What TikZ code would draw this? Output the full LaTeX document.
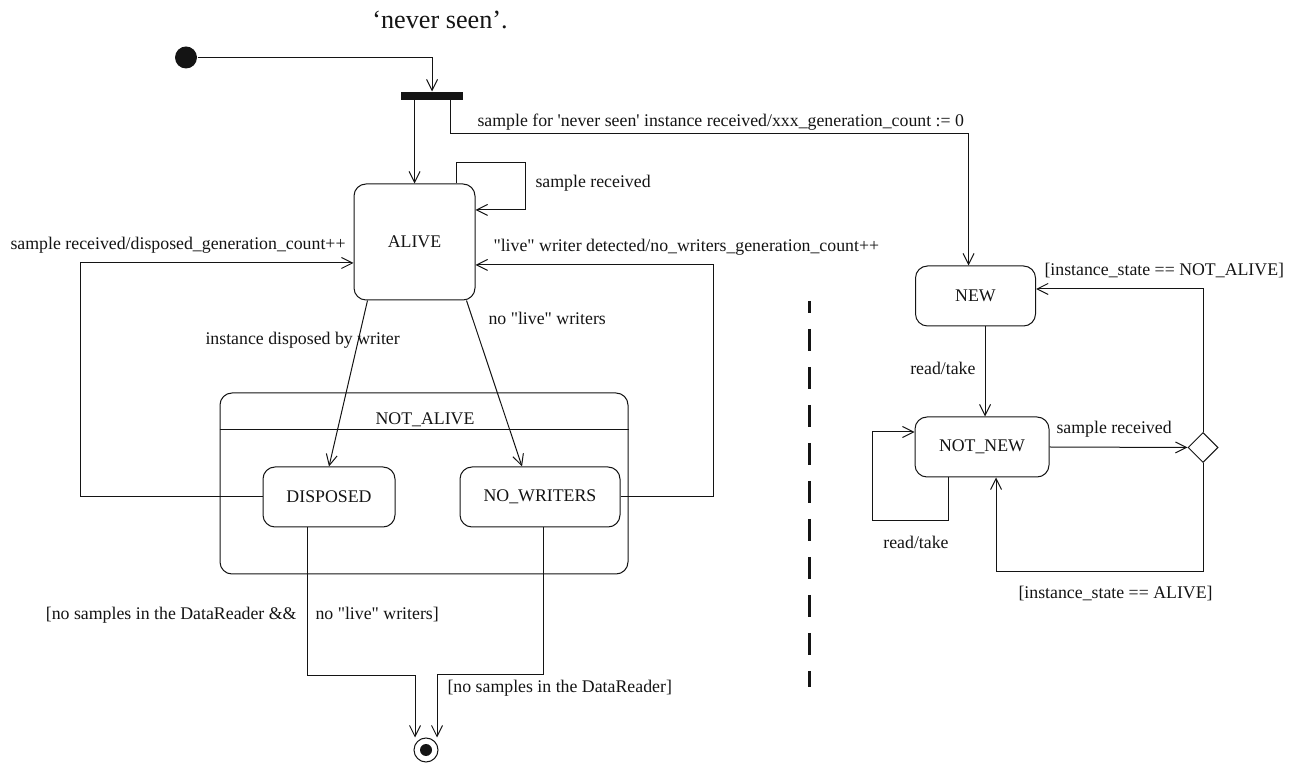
\documentclass[tikz,border=0pt]{standalone}
\usepackage{fontspec}
\setmainfont{Liberation Serif}
\usepackage{tikz}
\usetikzlibrary{arrows.meta, calc, shapes.geometric}
\definecolor{ink}{RGB}{20, 20, 20}
\newcommand*{\labelsize}{\fontsize{8.9}{10.5}\selectfont}
\newcommand*{\titlesize}{\fontsize{13.1}{15}\selectfont}
\newcommand*{\live}{\textquotedbl live\textquotedbl}

\begin{document}
\begin{tikzpicture}[x=0.5pt, y=-0.5pt, line width=0.5pt, color=ink, font=\labelsize,
  statebox/.style={draw, rounded corners=6pt, inner sep=0pt, minimum width=#1, minimum height=30pt},
  trans/.style={-{Straight Barb[length=5.5pt, width=5.5pt]}},
  guard/.style={inner sep=0pt}]
  \useasboundingbox (0, 0) rectangle (1306, 763);

  \node[font=\titlesize] (title) at (440, 20) {`never seen'.};

  \node[fill, circle, minimum size=11pt, inner sep=0pt] (init) at (186, 57.5) {};
  \node[fill, minimum width=31pt, minimum height=4pt, inner sep=0pt] (bar) at (432, 96) {};

  \node[statebox=60.5pt, minimum height=58pt] (alive) at (414.5, 242) {ALIVE};

  \node[draw, rounded corners=6pt, inner sep=0pt, minimum width=204pt, minimum height=90.5pt]
    (notalive) at (424, 483.5) {};
  \node[guard] (notalivelabel) at (425, 420) {NOT\_ALIVE};
  \draw ($(notalive.north west)+(0, 37.5)$) -- ($(notalive.north east)+(0, 37.5)$);

  \node[statebox=66pt, fill=white] (disposed) at (329, 497) {DISPOSED};
  \node[statebox=80pt, fill=white] (nowriters) at (540, 497) {NO\_WRITERS};

  \node[draw, circle, minimum size=12pt, inner sep=0pt] (final) at (426, 750) {};
  \node[fill, circle, minimum size=6pt, inner sep=0pt] (finaldot) at (final) {};

  \node[statebox=60pt] (new) at (975.5, 296) {NEW};
  \node[statebox=67pt] (notnew) at (982, 447) {NOT\_NEW};
  \node[draw, diamond, aspect=1, minimum size=15pt, inner sep=0pt] (choice) at (1203, 447.5) {};

  \draw[line width=1.5pt, dash pattern=on 11pt off 8pt, dash phase=5pt] (809, 301) -- (809, 687);

  \draw[trans] (init) -| (bar);
  \draw[trans] (alive.north |- bar.south) -- (alive.north);
  \draw[trans] ($(bar.south)+(18, 0)$) -- ++(0, 33) -| ($(new.north)+(-7, 0)$);
  \node[guard, anchor=west] (neverseenlabel) at (477, 122)
    {sample for \textquotesingle never seen\textquotesingle{} instance received/xxx\_generation\_count := 0};

  \draw[trans] ($(alive.north)+(42, 0)$) -- ++(0, -21) -- ++(69, 0) |- ($(alive.east)+(0, -32)$);
  \node[guard, anchor=west] (alivelooplabel) at (535, 183) {sample received};

  \draw[trans] (disposed.west) -- ++(-182, 0) |- ($(alive.west)+(0, 21)$);
  \node[guard, anchor=east] (disposedbacklabel) at (346, 245) {sample received/disposed\_generation\_count++};

  \draw[trans] (nowriters.east) -- ++(93, 0) |- ($(alive.east)+(0, 23)$);
  \node[guard, anchor=west] (nowritersbacklabel) at (493, 247) {\live{} writer detected/no\_writers\_generation\_count++};

  \draw[trans] ($(alive.south)+(-47, 0)$) -- (disposed.north);
  \node[guard, anchor=west] (disposelabel) at (205, 340) {instance disposed by writer};

  \draw[trans] ($(alive.south)+(52, 0)$) -- ($(nowriters.north)+(-18, 0)$);
  \node[guard, anchor=west] (nolivelabel) at (488, 318) {no \live{} writers};

  \draw[trans] ($(disposed.south)+(-22, 0)$) -- ++(0, 148) -| ($(final.north)+(-11, 0)$);
  \node[guard, anchor=east] (disposedendlabel) at (297, 615) {[no samples in the DataReader \&\&};
  \node[guard, anchor=west] (disposedendlabelb) at (315, 615) {no \live{} writers]};

  \draw[trans] ($(nowriters.south)+(3, 0)$) -- ++(0, 147) -| ($(final.north)+(11, 0)$);
  \node[guard, anchor=west] (nowritersendlabel) at (447, 688) {[no samples in the DataReader]};

  \draw[trans] ($(new.south)+(9.5, 0)$) coordinate (readtake) -- (readtake |- notnew.north);
  \node[guard, anchor=east] (readtakelabel) at (976, 368) {read/take};

  \draw[trans] ($(notnew.south)+(-34, 0)$) -- ++(0, 43) -- ++(-76, 0) |- ($(notnew.west)+(0, -15)$);
  \node[guard] (readtakelooplabel) at (916, 542) {read/take};

  \draw[trans] (notnew.east) -- (choice.west);
  \node[guard, anchor=west] (samplelabel) at (1056, 429) {sample received};

  \draw[trans] (choice.north) |- ($(new.east)+(0, -7)$);
  \node[guard, anchor=west] (notalivestatelabel) at (1044, 271) {[instance\_state == NOT\_ALIVE]};

  \draw[trans] (choice.south) -- ++(0, 108.5) -| ($(notnew.south)+(14, 0)$);
  \node[guard, anchor=west] (alivestatelabel) at (1018, 594) {[instance\_state == ALIVE]};
\end{tikzpicture}
\end{document}
